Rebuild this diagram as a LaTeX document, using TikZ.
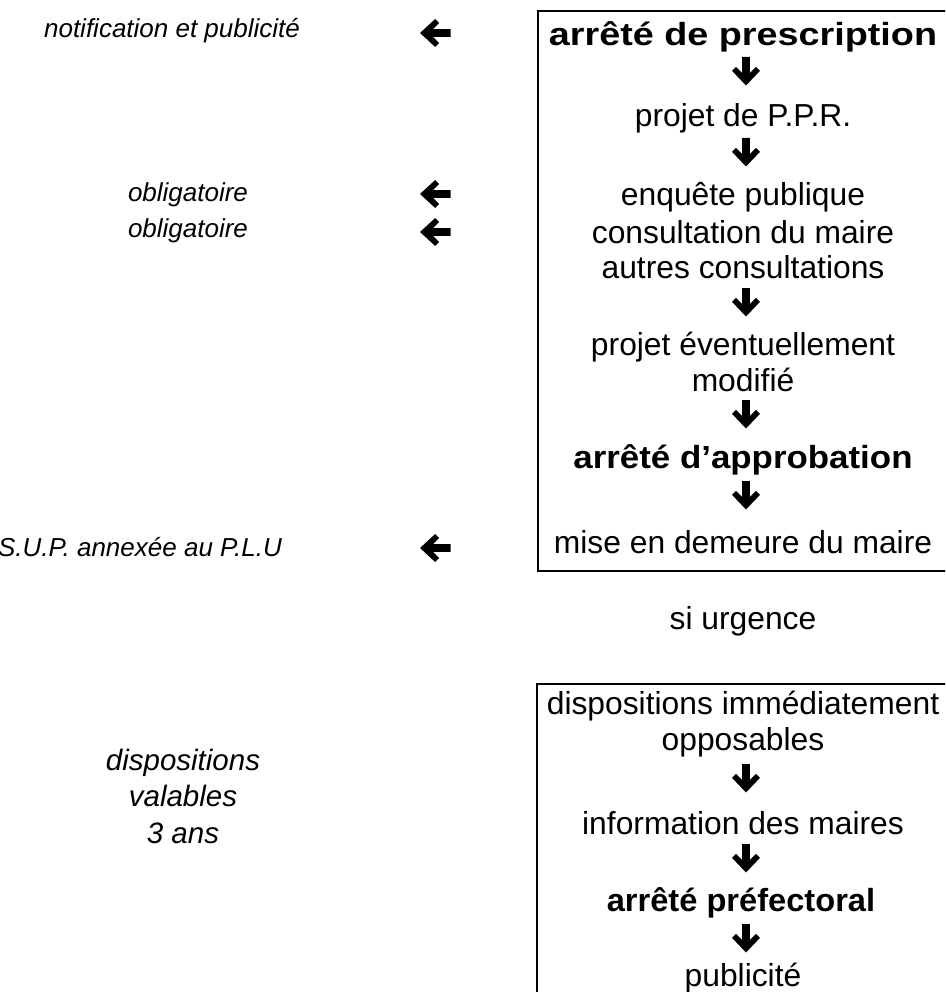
\documentclass[tikz,border=0pt]{standalone}
\usepackage{fontspec}
\setmainfont{Liberation Sans}
\newcommand{\wide}[2]{\scalebox{#1}[1]{#2}}
\begin{document}
\begin{tikzpicture}[x=1pt,y=-1pt,
  rt/.style={font=\fontsize{31.8}{35.5}\selectfont, align=center, inner sep=0pt},
  rb/.style={rt, font=\fontsize{32}{35}\selectfont\bfseries},
  lt/.style={font=\fontsize{26}{28}\selectfont\itshape, inner sep=0pt},
  bigl/.style={font=\fontsize{29.5}{36.5}\selectfont\itshape, align=center, inner sep=0pt},
  frame/.style={line width=1.8pt},
  downarr/.pic={\fill (-3.8,-15)--(3.8,-15)--(3.8,1)--(10,-5.2)--(14,-1.2)--(0,13.5)--(-14,-1.2)--(-10,-5.2)--(-3.8,1)--cycle;},
  leftarr/.pic={\fill (16.5,-3.8)--(16.5,3.8)--(-1,3.8)--(5.2,10)--(1.2,14)--(-14,0)--(1.2,-14)--(5.2,-10)--(-1,-3.8)--cycle;}
]
\clip (0,0) rectangle (945,992);
\useasboundingbox (0,0) rectangle (945,992);

% frames
\draw[frame] (950,11) -- (538,11) -- (538,571) -- (950,571);
\draw[frame] (950,684) -- (537,684) -- (537,1000);

% right column, first box
\node[rb] (presc) at (743,37) {\wide{1.18}{arrêté de prescription}};
\node[rt] (projet) at (743,118) {projet de P.P.R.};
\node[rt] (enq) at (743,197) {enquête publique};
\node[rt] (cons) at (743,232) {consultation du maire};
\node[rt] (autres) at (743,267) {autres consultations};
\node[rt] (modif) at (743,362) {projet éventuellement\\modifié};
\node[rb] (approb) at (743,460) {\wide{1.09}{arrêté d’approbation}};
\node[rt] (mise) at (743,542) {mise en demeure du maire};

\node[rt] (urg) at (743,621) {si urgence};

% second box
\node[rt] (dispo) at (743,724) {dispositions immédiatement\\opposables};
\node[rt] (info) at (743,823) {information des maires};
\node[rb] (pref) at (741,903) {\wide{1.02}{arrêté préfectoral}};
\node[rt] (pub) at (743,978) {publicité};

% down arrows
\coordinate (d1) at (746,72);
\coordinate (d2) at (746,153);
\coordinate (d3) at (746,303);
\coordinate (d4) at (746,415);
\coordinate (d5) at (746,496);
\coordinate (d6) at (746,779);
\coordinate (d7) at (746,859);
\coordinate (d8) at (746,939);
\foreach \c in {d1,d2,d3,d4,d5,d6,d7,d8} \pic at (\c) {downarr};

% left labels
\node[lt] (notif) at (172,31) {notification et publicité};
\node[lt] (obl1) at (188,195) {obligatoire};
\node[lt] (obl2) at (188,231) {obligatoire};
\node[lt] (sup) at (140,547) {S.U.P. annexée au P.L.U};
\node[bigl] (valab) at (183,796) {dispositions\\valables\\3 ans};

% left arrows
\coordinate (l1) at (434,33);
\coordinate (l2) at (434,194);
\coordinate (l3) at (434,232);
\coordinate (l4) at (434,548);
\foreach \c in {l1,l2,l3,l4} \pic at (\c) {leftarr};
\end{tikzpicture}
\end{document}
